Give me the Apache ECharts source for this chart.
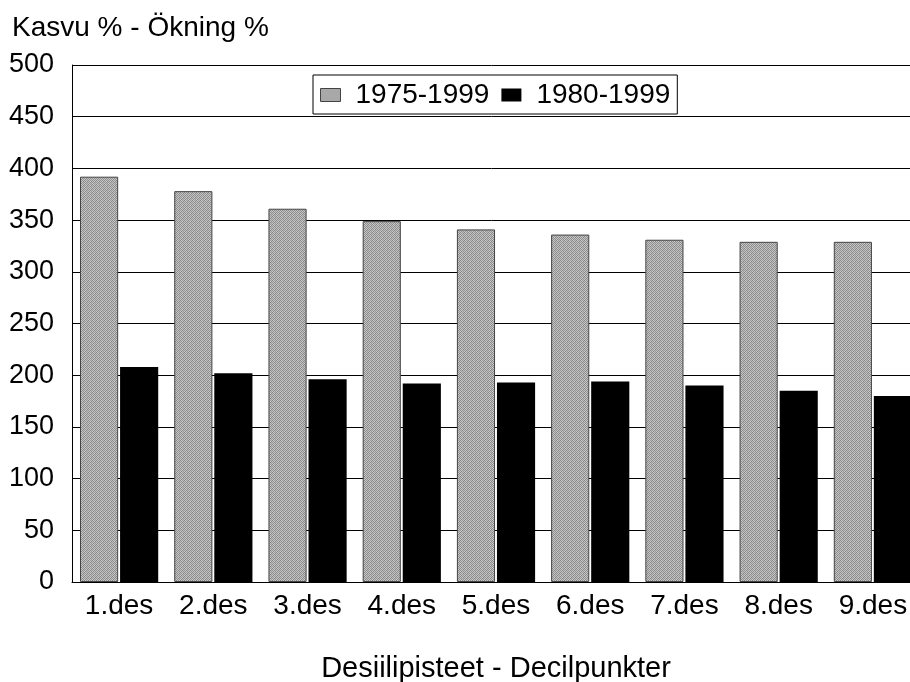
<!DOCTYPE html>
<html>
<head>
<meta charset="utf-8">
<script src="https://cdn.jsdelivr.net/npm/echarts@6/dist/echarts.min.js"></script>
<style>
html,body{margin:0;padding:0;background:#fff;}
#chart{width:910px;height:682px;}
</style>
</head>
<body>
<div id="chart"></div>
<script>
const categories = ['1.des','2.des','3.des','4.des','5.des','6.des','7.des','8.des','9.des'];
const series1975 = [392, 378, 361, 349, 341, 336, 331, 329, 329];
const series1980 = [208, 202, 196, 192, 193, 194, 190, 185, 180];
const seriesNames = ['1975-1999', '1980-1999'];
const yTitle = 'Kasvu % - Ökning %';
const xTitle = 'Desiilipisteet - Decilpunkter';

// dithered gray texture
const pc = document.createElement('canvas');
pc.width = 4; pc.height = 4;
const pctx = pc.getContext('2d');
const shades = [['#858585','#cacaca','#959595','#bebebe'],
                ['#c2c2c2','#8e8e8e','#cecece','#848484'],
                ['#929292','#c6c6c6','#8a8a8a','#bababa'],
                ['#cacaca','#888888','#c0c0c0','#969696']];
for (let y = 0; y < 4; y++) for (let x = 0; x < 4; x++) {
  pctx.fillStyle = shades[y][x]; pctx.fillRect(x, y, 1, 1);
}

const font = '"Liberation Sans", Arial, Helvetica, sans-serif';
const chart = echarts.init(document.getElementById('chart'));
chart.setOption({
  animation: false,
  backgroundColor: '#fff',
  graphic: [{
    type: 'text', left: 12, top: 14,
    style: { text: yTitle, font: '28px ' + font, fill: '#000' }
  }],
  legend: {
    left: 313, top: 75,
    padding: [6, 7, 5, 7],
    itemWidth: 20, itemHeight: 13, itemGap: 12,
    icon: 'rect',
    backgroundColor: '#fff',
    borderColor: '#000', borderWidth: 1, borderRadius: 0,
    textStyle: { fontFamily: font, fontSize: 28, color: '#000', padding: [0, 0, 0, 10] },
    data: [
      { name: seriesNames[0], itemStyle: { color: '#a8a8a8', borderColor: '#444', borderWidth: 1 } },
      { name: seriesNames[1], itemStyle: { color: '#000' } }
    ]
  },
  grid: { left: 72, top: 65, width: 848, height: 517, outerBoundsMode: 'none', containLabel: false },
  xAxis: {
    type: 'category',
    data: categories,
    name: xTitle,
    nameLocation: 'middle',
    nameGap: 72,
    nameTextStyle: { fontFamily: font, fontSize: 29, color: '#000' },
    axisLine: { lineStyle: { color: '#000', width: 1 } },
    axisTick: { show: false },
    axisLabel: { fontFamily: font, fontSize: 28, color: '#000', margin: 10 }
  },
  yAxis: {
    type: 'value',
    min: 0, max: 500, interval: 50,
    axisLine: { show: true, lineStyle: { color: '#000', width: 1 } },
    axisTick: { show: false },
    axisLabel: { fontFamily: font, fontSize: 27, color: '#000', margin: 18 },
    splitLine: { lineStyle: { color: '#000', width: 1 } }
  },
  series: [
    {
      name: seriesNames[0], type: 'bar', data: series1975,
      barCategoryGap: '17%', barGap: '5%',
      itemStyle: { color: { image: pc, repeat: 'repeat' }, borderColor: '#444', borderWidth: 1 }
    },
    {
      name: seriesNames[1], type: 'bar', data: series1980,
      itemStyle: { color: '#000' }
    }
  ]
});
</script>
</body>
</html>
